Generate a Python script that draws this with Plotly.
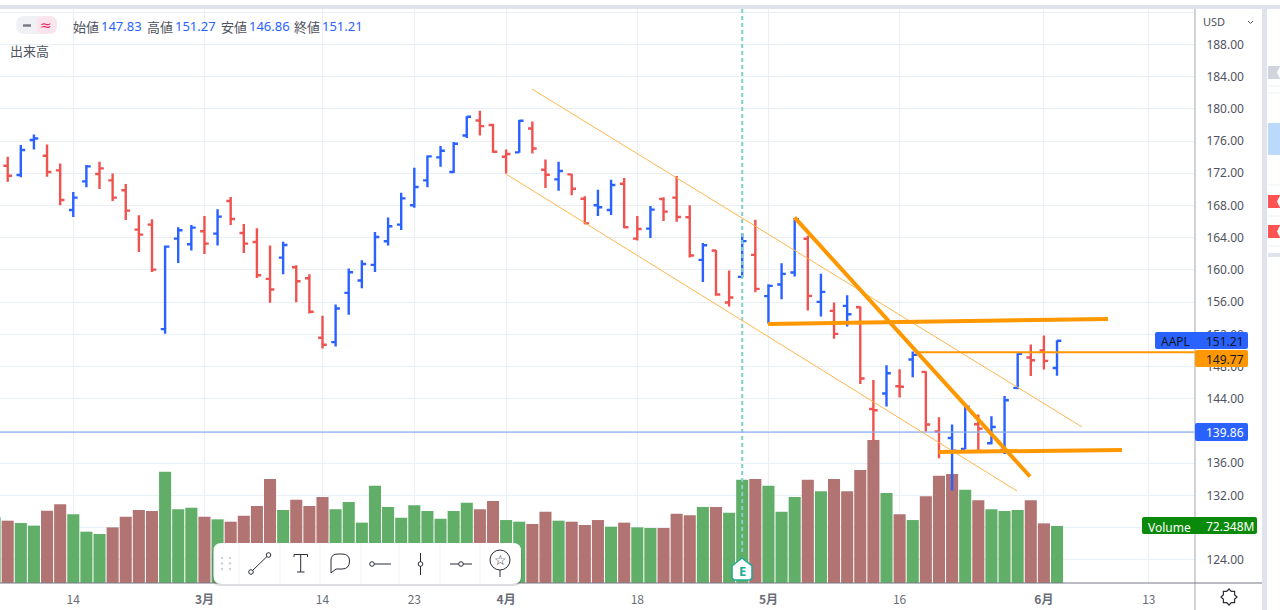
import math
import plotly.graph_objects as go

W = 1280
H = 610

opens = [171.68, 172.93, 171.78, 176.12, 174.17, 172.36, 167.44, 170.99, 171.90, 171.11,
         169.88, 165.00, 165.62, 152.65, 163.88, 163.18, 164.79, 164.50, 168.55, 164.59,
         163.47, 158.88, 161.53, 160.33, 158.97, 151.57, 151.03, 157.15, 158.68, 160.62,
         163.55, 165.62, 168.02, 171.11, 173.97, 172.15, 176.69, 178.55, 177.98, 174.05,
         174.59, 177.56, 172.44, 171.24, 171.86, 168.84, 168.02, 167.44, 170.70, 163.88,
         165.12, 168.80, 168.97, 166.53, 161.24, 162.40, 155.95, 159.14, 161.87, 156.74,
         158.19, 159.68, 163.86, 156.03, 154.91, 155.54, 155.37, 142.74, 144.65, 145.55,
         148.87, 147.34, 139.93, 139.14, 137.77, 140.84, 138.48, 137.65, 145.35, 149.12,
         149.99, 147.83]
highs = [174.10, 174.05, 175.50, 176.82, 175.58, 173.22, 169.67, 173.02, 173.43, 171.98,
         170.66, 166.78, 166.28, 163.02, 165.29, 165.58, 166.70, 167.52, 169.05, 165.70,
         165.17, 163.02, 163.51, 160.58, 159.46, 154.30, 155.70, 160.17, 161.20, 164.71,
         166.49, 169.59, 172.69, 174.21, 175.37, 175.87, 179.09, 179.75, 178.14, 174.96,
         178.60, 178.43, 173.72, 173.43, 171.90, 169.13, 169.96, 171.20, 171.40, 166.70,
         167.93, 169.01, 171.65, 168.02, 163.35, 162.48, 159.93, 164.56, 166.22, 158.23,
         160.84, 166.43, 164.23, 159.51, 155.95, 156.86, 155.45, 146.34, 148.17, 147.67,
         149.86, 147.42, 141.70, 140.80, 143.15, 142.04, 141.83, 144.36, 149.66, 150.73,
         151.85, 151.27]
lows = [170.68, 170.95, 171.49, 174.96, 171.57, 168.02, 166.57, 170.25, 170.04, 168.55,
        166.20, 162.23, 159.75, 152.07, 160.87, 162.40, 161.98, 163.02, 165.58, 162.11,
        159.01, 155.91, 159.46, 155.99, 154.59, 150.25, 150.50, 154.42, 157.73, 159.75,
        163.02, 164.96, 167.73, 170.25, 172.81, 172.02, 176.36, 176.69, 174.55, 171.98,
        174.55, 174.46, 170.17, 169.84, 169.26, 165.66, 166.70, 166.82, 165.17, 163.64,
        163.97, 166.07, 165.99, 161.53, 158.51, 156.78, 155.45, 159.10, 157.23, 153.30,
        156.36, 159.18, 154.96, 154.21, 151.44, 152.97, 145.85, 138.80, 143.03, 144.15,
        146.67, 139.93, 136.61, 132.60, 137.73, 137.65, 138.35, 137.15, 145.18, 146.84,
        147.63, 146.86]
closes = [172.39, 171.69, 174.88, 176.32, 172.15, 168.68, 168.97, 172.85, 172.60, 168.97,
          167.36, 164.38, 160.04, 162.89, 164.92, 165.25, 163.26, 166.61, 166.32, 163.26,
          159.34, 157.56, 163.10, 158.60, 154.80, 150.70, 155.21, 159.71, 160.74, 164.09,
          165.41, 168.88, 170.29, 174.09, 174.79, 175.66, 179.01, 177.85, 174.67, 174.38,
          178.51, 175.08, 171.82, 172.27, 170.08, 165.78, 167.77, 170.54, 165.29, 165.08,
          167.48, 167.23, 166.57, 161.78, 163.06, 156.94, 156.57, 163.57, 157.65, 158.02,
          159.51, 166.30, 156.78, 157.27, 152.06, 154.50, 146.51, 142.57, 147.17, 145.49,
          149.45, 140.80, 137.40, 137.56, 143.03, 140.30, 140.50, 143.82, 149.57, 148.79,
          148.70, 151.21]
volumes = [83.3, 79.1, 76.1, 72.8, 91.8, 99.8, 87.1, 65.1, 62.2, 70.6,
           84.2, 92.6, 91.4, 141.3, 93.5, 95.6, 84.2, 80.8, 77.8, 85.4,
           97.7, 132.0, 92.6, 105.8, 97.7, 109.1, 93.5, 102.8, 76.6, 123.5,
           96.4, 82.9, 98.6, 91.4, 81.6, 91.4, 101.9, 93.5, 104.1, 79.9,
           77.8, 74.9, 90.5, 79.1, 77.8, 73.6, 79.9, 71.5, 76.6, 70.6,
           69.8, 69.8, 88.0, 85.9, 96.4, 96.4, 89.3, 131.1, 132.0, 123.5,
           90.5, 109.1, 131.1, 116.3, 132.0, 116.3, 143.4, 181.5, 114.2, 87.1,
           79.9, 110.0, 136.2, 138.3, 118.4, 104.9, 93.5, 91.4, 92.6, 104.9,
           75.7, 72.348]

tick_pos = [6, 16, 25, 32, 39, 49, 59, 69, 80, 88]
tick_text = ["14", "<b>3月</b>", "14", "23", "<b>4月</b>", "18", "<b>5月</b>", "16", "<b>6月</b>", "13"]
price_ticks = [124, 128, 132, 136, 140, 144, 148, 152, 156, 160, 164, 168, 172, 176, 180, 184, 188, 192]
price_text = ["124.00", "", "132.00", "136.00", "", "144.00", "148.00", "152.00", "156.00", "160.00",
              "164.00", "168.00", "172.00", "176.00", "180.00", "184.00", "188.00", ""]

channel_up_x = [40.97, 82.91]
channel_up_y = [182.46, 140.50]
channel_low_x = [38.99, 77.95]
channel_low_y = [171.91, 132.55]
drop_x = [60.99, 78.94]
drop_y = [166.51, 134.35]
resist_x = [58.97, 84.89]
resist_y = [153.29, 153.91]
support_x = [71.97, 85.96]
support_y = [137.40, 137.64]
ray_x = [70.33, 91.52]
ray_y = [149.77, 149.77]
level_x = [0.41, 91.52]
level_y = [139.86, 139.86]
earnings_x = [57, 57]
earnings_y = [192.39, 124.6]

BLUE = "#2962ff"
RED = "#ef5350"
ORANGE = "#ff9800"
TEAL = "#22ab94"
GRID = "#e9f0f5"
BAND = "#e0e3eb"


def fx(x):
    return x / W


def fy(y):
    return 1 - y / H


def rounded(x0, y0, x1, y1, r=2):
    return (f"M{fx(x0 + r)},{fy(y0)} L{fx(x1 - r)},{fy(y0)} Q{fx(x1)},{fy(y0)} {fx(x1)},{fy(y0 + r)} "
            f"L{fx(x1)},{fy(y1 - r)} Q{fx(x1)},{fy(y1)} {fx(x1 - r)},{fy(y1)} "
            f"L{fx(x0 + r)},{fy(y1)} Q{fx(x0)},{fy(y1)} {fx(x0)},{fy(y1 - r)} "
            f"L{fx(x0)},{fy(y0 + r)} Q{fx(x0)},{fy(y0)} {fx(x0 + r)},{fy(y0)} Z")


def poly(points):
    parts = [f"{fx(x)},{fy(y)}" for x, y in points]
    return "M" + " L".join(parts) + " Z"


shapes = []


def add_path(path, fill="rgba(0,0,0,0)", line=None, width=1):
    shapes.append(dict(type="path", xref="paper", yref="paper", path=path, fillcolor=fill, layer="above",
                       line=dict(color=line if line else "rgba(0,0,0,0)", width=width if line else 0)))


def add_rect(x0, y0, x1, y1, fill):
    shapes.append(dict(type="rect", xref="paper", yref="paper", x0=fx(x0), x1=fx(x1), y0=fy(y0), y1=fy(y1),
                       fillcolor=fill, line=dict(width=0), layer="above"))


def add_seg(x0, y0, x1, y1, color="#2a2e39", width=1):
    shapes.append(dict(type="line", xref="paper", yref="paper", x0=fx(x0), x1=fx(x1), y0=fy(y0), y1=fy(y1),
                       line=dict(color=color, width=width), layer="above"))


def add_dot(cx, cy, r, line="#2a2e39", fill="#ffffff"):
    shapes.append(dict(type="circle", xref="paper", yref="paper", x0=fx(cx - r), x1=fx(cx + r),
                       y0=fy(cy + r), y1=fy(cy - r), fillcolor=fill, line=dict(color=line, width=1), layer="above"))


annotations = []


def add_text(x, y, text, size=12, color="#50535e", anchor="left", family="Noto Sans CJK JP"):
    annotations.append(dict(xref="paper", yref="paper", x=fx(x), y=fy(y), text=text, showarrow=False,
                            xanchor=anchor, yanchor="middle", align=anchor, borderpad=0, borderwidth=0,
                            font=dict(size=size, color=color, family=family)))


# frame around the chart panel
add_rect(0, 5, W, 9, BAND)
add_rect(1262, 5, 1267, H, BAND)
add_rect(1267, 0, W, 5, "#ffffff")
add_seg(1195, 9, 1195, H, "#b2b5be", 1.2)
add_seg(0, 583, 1262, 583, "#787b86", 1)

# clipped side panel items
add_rect(1268, 66, W, 79, "#d1d4dc")
add_rect(1268, 123, W, 155, "#bbd9fb")
add_rect(1268, 195, W, 208, "#ff5252")
add_rect(1268, 225, W, 238, "#ff5252")
add_rect(1268, 253, W, 257, BAND)
for ly in [86, 93, 185, 216, 246]:
    add_seg(1268, ly, W, ly, "#eef0f4", 1)
for cy in [72.5, 201.5, 231.5]:
    add_path(poly([(W, cy - 6), (1277, cy), (W, cy + 6)]), fill="#ffffff")

# price labels
add_path(rounded(1155, 332, 1248, 349), fill=BLUE)
add_path(rounded(1195, 350, 1248, 367), fill=ORANGE)
add_path(rounded(1195, 423, 1248, 441), fill=BLUE)
add_path(rounded(1142, 517, 1257, 534), fill="#0a8a0a")
add_text(1161, 341, "AAPL", 12, "#131722", family="Noto Sans")
add_text(1206, 341, "151.21", 12, "#131722", family="Noto Sans")
add_text(1206, 359, "149.77", 12, "#131722", family="Noto Sans")
add_text(1206, 432, "139.86", 12, "#ffffff", family="Noto Sans")
add_text(1148, 527, "Volume", 12, "#ffffff", family="Noto Sans")
add_text(1206, 526, "72.348M", 12, "#ffffff", family="Noto Sans")

# header
add_text(1203, 22, "USD", 11, "#50535e", family="Noto Sans")
add_seg(1248, 21, 1250.5, 23.5, "#50535e")
add_seg(1250.5, 23.5, 1253, 21, "#50535e")
add_path(rounded(16, 16, 57, 34, 9), fill="#f0f1f4")
add_path(rounded(36, 16, 57, 34, 8), fill="#fce4ec")
add_seg(23, 25.5, 31, 25.5, "#787b86", 2.5)
add_text(46, 25, "≈", 14, "#e91e63", "center", "DejaVu Sans")
legend_labels = ["始値", "高値", "安値", "終値"]
legend_values = ["147.83", "151.27", "146.86", "151.21"]
legend_at = [73, 147, 221, 294]
for lx, lab, val in zip(legend_at, legend_labels, legend_values):
    add_text(lx, 26, lab, 13, "#50535e")
    add_text(lx + 27.5, 26, val, 13, BLUE, family="Noto Sans")
add_text(10, 51, "出来高", 13, "#50535e")

# drawing toolbar
add_path(rounded(212, 545, 522, 586, 9), fill="rgba(40,45,60,0.16)")
add_path(rounded(213.5, 543, 521, 584, 8), fill="#ffffff")
for sx in [239, 280, 320, 361, 399, 440, 480]:
    add_seg(sx, 543, sx, 584, "#f0f3fa")
for dx in [222, 230]:
    for dy in [558, 563.5, 569]:
        add_dot(dx, dy, 0.8, "#c8cbd3", "#c8cbd3")
add_seg(251, 572, 268.5, 555)
add_dot(251, 572, 2.3)
add_dot(268.5, 555, 2.3)
add_seg(294, 554.5, 307.5, 554.5)
add_seg(294, 554.5, 294, 557)
add_seg(307.5, 554.5, 307.5, 557)
add_seg(300.7, 554.5, 300.7, 572)
add_seg(297, 572, 304.5, 572)
add_path(f"M{fx(331)},{fy(573)} L{fx(331)},{fy(560)} Q{fx(331)},{fy(554)} {fx(338)},{fy(554)} "
         f"L{fx(342)},{fy(554)} Q{fx(349.5)},{fy(554)} {fx(349.5)},{fy(561)} Q{fx(349.5)},{fy(569)} {fx(342)},{fy(569)} "
         f"L{fx(336)},{fy(569)} Z", line="#2a2e39")
add_seg(374, 564, 391, 564)
add_dot(372, 564, 2.3)
add_seg(420.5, 553, 420.5, 575)
add_dot(420.5, 564, 2.3)
add_seg(450, 564, 472, 564)
add_dot(461, 564, 2.3)
add_dot(500, 560, 10)
add_seg(500, 570, 500, 577)
add_text(500, 559.5, "☆", 14, "#2a2e39", "center", "DejaVu Sans")

# earnings marker
add_path(poly([(732, 566), (742, 558), (752, 566), (752, 578), (750, 580), (734, 580), (732, 578)]),
         fill="#ffffff", line=TEAL, width=1.6)
add_text(742, 570.5, "<b>E</b>", 13, TEAL, "center", "Noto Sans")

# settings gear
teeth = []
for k in range(16):
    rad = 8 if k % 2 == 0 else 6
    ang = k * math.pi / 8
    teeth.append((1229 + rad * math.cos(ang), 597 + rad * math.sin(ang)))
add_path(poly(teeth), fill="#ffffff", line="#2a2e39", width=1.2)

x_index = list(range(len(opens)))
is_up = [True] + [closes[i] >= closes[i - 1] for i in range(1, len(closes))]
vol_colors = ["#60ae67" if c >= o else "#b27373" for o, c in zip(opens, closes)]

fig = go.Figure()

fig.add_trace(go.Bar(x=x_index, y=volumes, marker=dict(color=vol_colors, line=dict(width=0)), yaxis="y", showlegend=False))

for flag, color in [(True, BLUE), (False, RED)]:
    keep = [i for i in x_index if is_up[i] == flag]
    fig.add_trace(go.Ohlc(
        x=keep,
        open=[opens[i] for i in keep],
        high=[highs[i] for i in keep],
        low=[lows[i] for i in keep],
        close=[closes[i] for i in keep],
        yaxis="y2",
        tickwidth=0.33,
        increasing=dict(line=dict(color=color, width=2.4)),
        decreasing=dict(line=dict(color=color, width=2.4)),
        showlegend=False,
    ))

fig.add_trace(go.Scatter(x=earnings_x, y=earnings_y, mode="lines", yaxis="y2", showlegend=False,
                         line=dict(color="#7fd0c6", width=2, dash="4px,3px")))
fig.add_trace(go.Scatter(x=level_x, y=level_y, mode="lines", yaxis="y2", showlegend=False,
                         line=dict(color="#8fb0f7", width=1.3)))
for lx, ly in [(channel_up_x, channel_up_y), (channel_low_x, channel_low_y)]:
    fig.add_trace(go.Scatter(x=lx, y=ly, mode="lines", yaxis="y2", showlegend=False,
                             line=dict(color="#ffb74d", width=1)))
fig.add_trace(go.Scatter(x=ray_x, y=ray_y, mode="lines", yaxis="y2", showlegend=False,
                         line=dict(color=ORANGE, width=2)))
for lx, ly in [(resist_x, resist_y), (support_x, support_y), (drop_x, drop_y)]:
    fig.add_trace(go.Scatter(x=lx, y=ly, mode="lines", yaxis="y2", showlegend=False,
                             line=dict(color=ORANGE, width=4)))

fig.update_layout(
    width=W,
    height=H,
    margin=dict(l=0, r=0, t=0, b=0),
    paper_bgcolor="#ffffff",
    plot_bgcolor="#ffffff",
    bargap=0.08,
    hovermode=False,
    shapes=shapes,
    annotations=annotations,
    xaxis=dict(
        domain=[0, 1195 / W],
        range=[0.413, 91.52],
        tickmode="array",
        tickvals=tick_pos,
        ticktext=tick_text,
        ticks="outside",
        ticklen=6,
        tickcolor="rgba(0,0,0,0)",
        tickfont=dict(family="Noto Sans CJK JP", size=12, color="#6a6d78"),
        showgrid=True,
        gridcolor=GRID,
        zeroline=False,
        showline=False,
        rangeslider=dict(visible=False),
    ),
    yaxis=dict(
        domain=[1 - 583 / H, 1 - 9 / H],
        range=[0, 728.4],
        visible=False,
        showgrid=False,
    ),
    yaxis2=dict(
        overlaying="y",
        side="right",
        anchor="x",
        range=[121.13, 192.39],
        tickmode="array",
        tickvals=price_ticks,
        ticktext=price_text,
        ticks="outside",
        ticklen=8,
        tickcolor="rgba(0,0,0,0)",
        tickfont=dict(family="Noto Sans", size=12, color="#50535e"),
        showgrid=True,
        gridcolor=GRID,
        zeroline=False,
        showline=False,
    ),
)

fig.write_html("out.html", config=dict(displayModeBar=False),
               post_script="document.body.style.margin='0';")
